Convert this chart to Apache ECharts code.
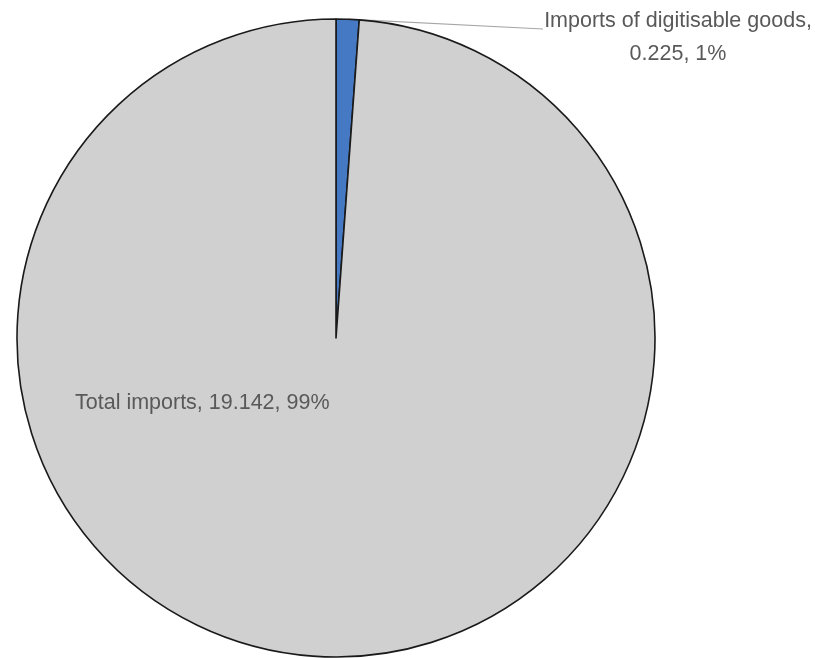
<!DOCTYPE html>
<html>
<head>
<meta charset="utf-8">
<style>
  html, body { margin: 0; padding: 0; background: #ffffff; }
  #chart { width: 815px; height: 658px; }
</style>
<script src="https://cdn.jsdelivr.net/npm/echarts@6/dist/echarts.min.js"></script>
</head>
<body>
<div id="chart"></div>
<script>
// Import breakdown (values in the source units)
const categories = ['Imports of digitisable goods', 'Total imports'];
const values = [0.225, 19.142];
const valueLabels = ['0.225', '19.142'];
const sliceColors = ['#4679c3', '#d0d0d0'];

const FONT = '"Liberation Sans", Arial, sans-serif';

const chart = echarts.init(document.getElementById('chart'), null, { renderer: 'canvas' });

const data = categories.map((name, i) => ({
  name: name,
  value: values[i],
  itemStyle: { color: sliceColors[i] }
}));

chart.setOption({
  animation: false,
  backgroundColor: '#ffffff',
  series: [{
    type: 'pie',
    center: [336, 338],
    radius: [0, 319],
    startAngle: 90,
    clockwise: true,
    avoidLabelOverlap: false,
    data: data,
    itemStyle: { borderColor: '#1a1a1a', borderWidth: 1.6 },
    label: {
      show: true,
      position: 'outside',
      color: '#595959',
      fontFamily: FONT,
      fontSize: 21.5,
      lineHeight: 33,
      formatter: function (p) {
        const pct = Math.round(p.percent) + '%';
        if (p.dataIndex === 0) {
          return p.name + ',\n' + valueLabels[0] + ', ' + pct;
        }
        return p.name + ', ' + valueLabels[p.dataIndex] + ', ' + pct;
      }
    },
    labelLine: {
      show: true,
      length: 10,
      length2: 10,
      lineStyle: { color: '#a6a6a6', width: 1.2 }
    },
    labelLayout: function (params) {
      if (params.dataIndex === 0) {
        const start = params.labelLinePoints ? params.labelLinePoints[0] : [348, 19];
        return {
          x: 678,
          y: 5,
          align: 'center',
          verticalAlign: 'top',
          labelLinePoints: [start, [543, 29], [543, 29]]
        };
      }
      return {
        x: 75,
        y: 403,
        align: 'left',
        verticalAlign: 'middle',
        hideOverlap: false
      };
    }
  }]
});
</script>
</body>
</html>
